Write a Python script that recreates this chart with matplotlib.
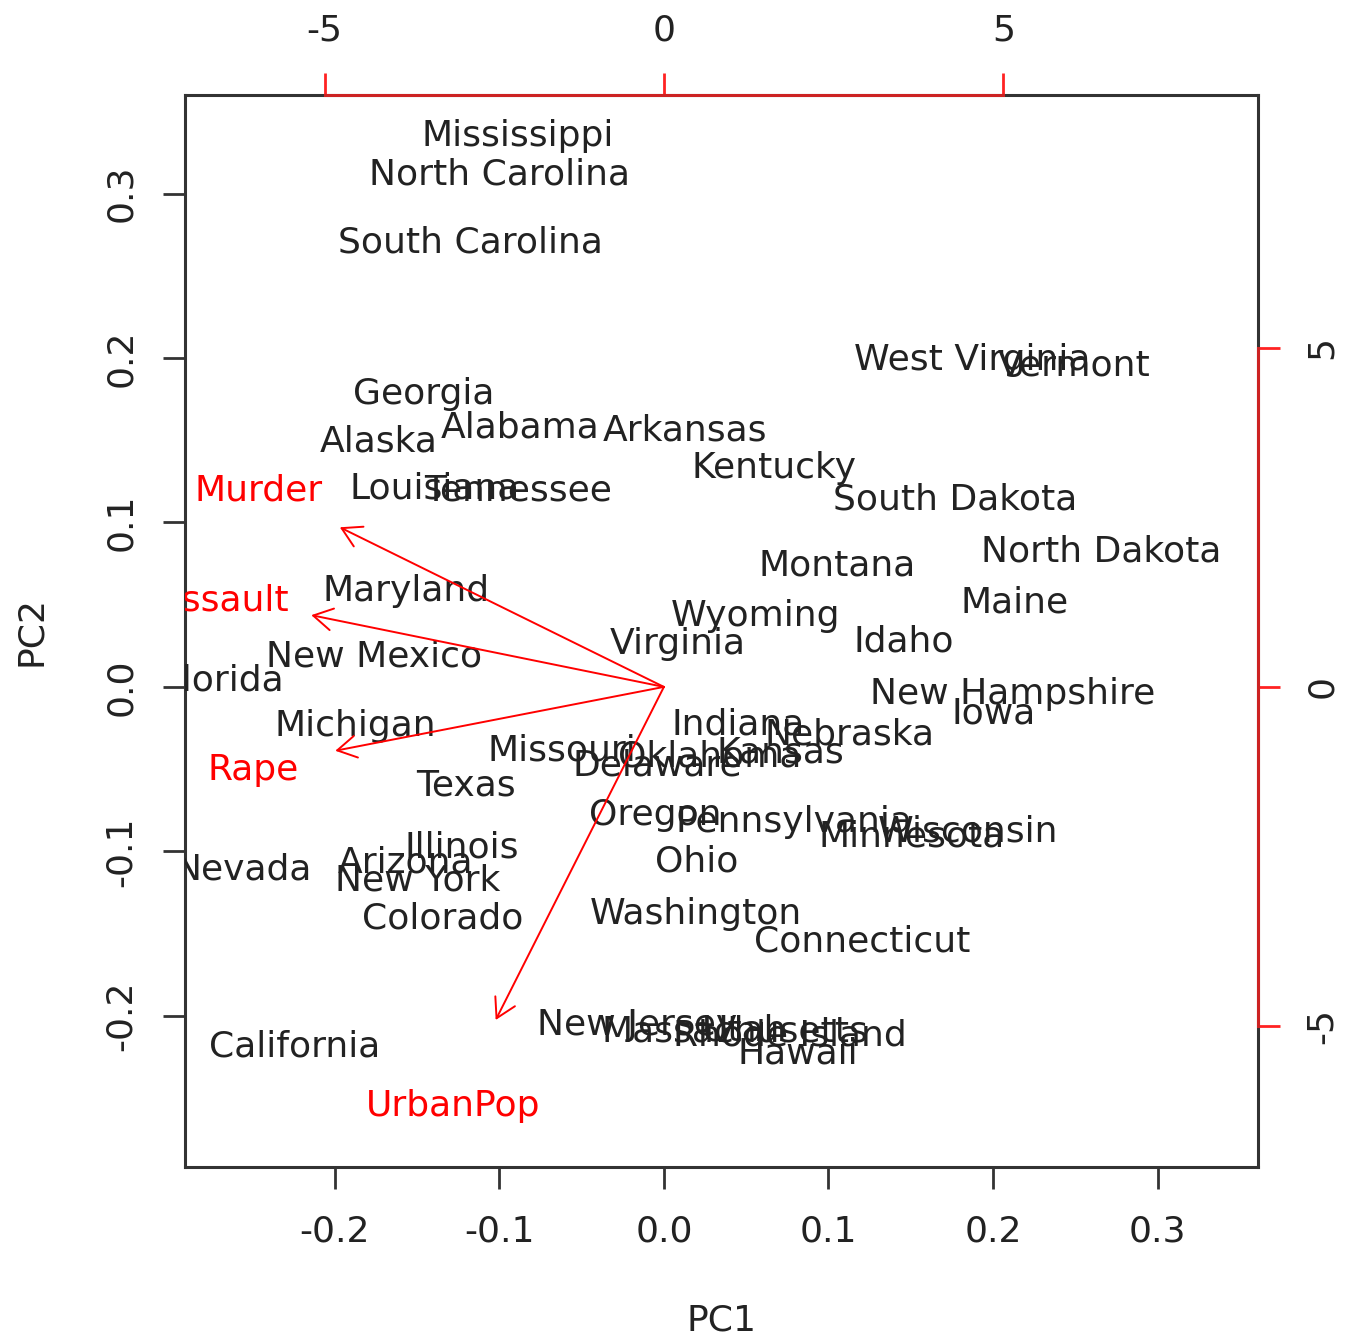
import matplotlib
matplotlib.use("Agg")
import matplotlib.pyplot as plt
from matplotlib.transforms import offset_copy

plt.rcParams['font.family'] = ['DejaVu Sans']
plt.rcParams['axes.unicode_minus'] = False

# Standardized PC scores (PC1, PC2) for each state
states = ["Alabama", "Alaska", "Arizona", "Arkansas", "California", "Colorado",
          "Connecticut", "Delaware", "Florida", "Georgia", "Hawaii", "Idaho",
          "Illinois", "Indiana", "Iowa", "Kansas", "Kentucky", "Louisiana",
          "Maine", "Maryland", "Massachusetts", "Michigan", "Minnesota",
          "Mississippi", "Missouri", "Montana", "Nebraska", "Nevada",
          "New Hampshire", "New Jersey", "New Mexico", "New York",
          "North Carolina", "North Dakota", "Ohio", "Oklahoma", "Oregon",
          "Pennsylvania", "Rhode Island", "South Carolina", "South Dakota",
          "Tennessee", "Texas", "Utah", "Vermont", "Virginia", "Washington",
          "West Virginia", "Wisconsin", "Wyoming"]
pc1 = [-0.08761, -0.17336, -0.15674, 0.01257, -0.22437, -0.13464,
       0.12078, -0.00424, -0.26785, -0.14573, 0.08113, 0.14577,
       -0.12258, 0.04493, 0.20034, 0.07084, 0.06675, -0.13911,
       0.21307, -0.15676, 0.04322, -0.18743, 0.15047,
       -0.08858, -0.06194, 0.10538, 0.11251, -0.25552,
       0.21192, -0.01614, -0.17602, -0.14958,
       -0.09986, 0.26600, 0.02009, 0.02772, -0.00526,
       0.07898, 0.07679, -0.11741, 0.17671,
       -0.08887, -0.12047, 0.04894, 0.24903, 0.00856, 0.01928,
       0.18744, 0.18488, 0.05595]
pc2 = [0.15949, 0.15102, -0.10497, 0.15758, -0.21713, -0.13897,
       -0.15324, -0.04579, 0.00552, 0.17997, -0.22100, 0.02969,
       -0.09595, -0.02133, -0.01464, -0.03802, 0.13487, 0.12258,
       0.05297, 0.06018, -0.20750, -0.02187, -0.08897,
       0.33686, -0.03706, 0.07555, -0.02729, -0.10914,
       -0.00254, -0.20398, 0.02010, -0.11584,
       0.31353, 0.08431, -0.10445, -0.04051, -0.07619,
       -0.08037, -0.20995, 0.27207, 0.11586,
       0.12106, -0.05804, -0.20707, 0.19733, 0.02811, -0.13652,
       0.20051, -0.08602, 0.04517]

# Variable loadings (scaled), label positions on the secondary axes
variables = ["Murder", "Assault", "UrbanPop", "Rape"]
load1 = [-5.968, -6.494, -3.098, -6.052]
load2 = [2.942, 1.3225, -6.140, -1.177]
arrow_frac = 0.8

# Axis limits and ticks
xlim = (-0.291, 0.361)
ylim = (-0.292, 0.360)
ratio = 24.245
xticks = [-0.2, -0.1, 0.0, 0.1, 0.2, 0.3]
xticklabels = ["-0.2", "-0.1", "0.0", "0.1", "0.2", "0.3"]
yticks = [-0.2, -0.1, 0.0, 0.1, 0.2, 0.3]
yticklabels = ["-0.2", "-0.1", "0.0", "0.1", "0.2", "0.3"]
sec_ticks = [-5, 0, 5]
sec_ticklabels = ["-5", "0", "5"]

W, H = 1346, 1340
fig = plt.figure(figsize=(W / 100, H / 100), dpi=100)
rect = [185 / W, 1 - 1167 / H, (1258 - 185) / W, (1167 - 95) / H]

FS = 26
TXT = '#222222'
BOX = '#333333'

ax = fig.add_axes(rect)
ax.set_xlim(*xlim)
ax.set_ylim(*ylim)
for s in ax.spines.values():
    s.set_color(BOX)
    s.set_linewidth(2.2)
ax.set_xticks(xticks)
ax.set_xticklabels(xticklabels)
ax.set_yticks(yticks)
ax.set_yticklabels(yticklabels, rotation=90, va='center')
ax.tick_params(axis='both', direction='out', length=16, width=2.0, color=BOX,
               labelsize=FS, labelcolor=TXT, pad=18)
ax.set_xlabel("PC1", fontsize=FS, color=TXT, labelpad=40)
ax.set_ylabel("PC2", fontsize=FS, color=TXT, labelpad=40)

tr1 = offset_copy(ax.transData, fig=fig, y=-3, units='dots')
for name, x, y in zip(states, pc1, pc2):
    ax.text(x, y, name, fontsize=FS, color=TXT, ha='center', va='center',
            clip_on=True, transform=tr1)

ax2 = fig.add_axes(rect, facecolor='none')
ax2.set_xlim(xlim[0] * ratio, xlim[1] * ratio)
ax2.set_ylim(ylim[0] * ratio, ylim[1] * ratio)
ax2.xaxis.tick_top()
ax2.yaxis.tick_right()
ax2.set_xticks(sec_ticks)
ax2.set_xticklabels(sec_ticklabels)
ax2.set_yticks(sec_ticks)
ax2.set_yticklabels(sec_ticklabels, rotation=90, va='center')
ax2.spines['left'].set_visible(False)
ax2.spines['bottom'].set_visible(False)
for side in ('top', 'right'):
    ax2.spines[side].set_color('#cc2222')
    ax2.spines[side].set_linewidth(2.2)
    ax2.spines[side].set_bounds(-5, 5)
ax2.tick_params(axis='both', direction='out', length=16, width=2.0,
                color='#ff2222', labelsize=FS, labelcolor=TXT, pad=18)

tr2 = offset_copy(ax2.transData, fig=fig, y=-3, units='dots')
for name, a, b in zip(variables, load1, load2):
    ax2.annotate('', xy=(a * arrow_frac, b * arrow_frac), xytext=(0, 0),
                 arrowprops=dict(arrowstyle='->,head_length=1.37,head_width=0.79',
                                 color='red', lw=1.4, shrinkA=0, shrinkB=0,
                                 mutation_scale=10))
    ax2.text(a, b, name, fontsize=FS, color='red', ha='center', va='center',
             clip_on=True, transform=tr2)

fig.savefig("out.png", dpi=100, facecolor='white')
